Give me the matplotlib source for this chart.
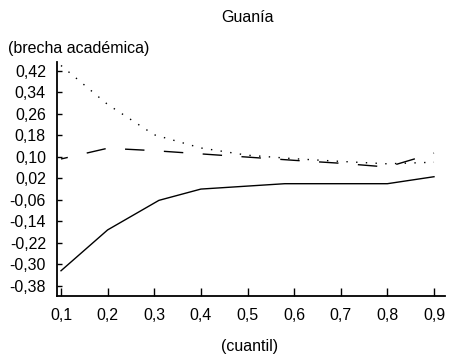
import matplotlib
matplotlib.use("Agg")
import matplotlib.pyplot as plt

# Data
x_quant = [0.1, 0.2, 0.3, 0.4, 0.5, 0.6, 0.7, 0.8, 0.9]
x_solid = [0.1, 0.2, 0.31, 0.4, 0.58, 0.8, 0.9]
y_solid = [-0.324, -0.172, -0.062, -0.020, 0.0, 0.0, 0.026]
y_dashed = [0.092, 0.132, 0.123, 0.111, 0.099, 0.087, 0.076, 0.062, 0.114]
y_dotted = [0.440, 0.295, 0.182, 0.133, 0.106, 0.093, 0.083, 0.074, 0.080]

yticks = [0.42, 0.34, 0.26, 0.18, 0.10, 0.02, -0.06, -0.14, -0.22, -0.30, -0.38]
xticks = [0.1, 0.2, 0.3, 0.4, 0.5, 0.6, 0.7, 0.8, 0.9]

title = "Guanía"
ylabel = "(brecha académica)"
xlabel = "(cuantil)"

plt.rcParams['font.family'] = ['Liberation Sans', 'DejaVu Sans']
FS = 11.5

fig = plt.figure(figsize=(4.55, 3.57), dpi=100)
ax = fig.add_axes([57/455, 1-296/357, (445-57)/455, (296-62)/357])

ax.plot(x_solid, y_solid, color='black', lw=1.0, solid_joinstyle='miter')
ax.plot(x_quant, y_dashed, color='black', lw=1.0, linestyle=(9, (14, 14)))
ax.plot(x_quant, y_dotted, color='black', lw=1.0, linestyle=(0, (1, 6)))

ax.set_xlim(0.0914, 0.9236)
ax.set_ylim(-0.418, 0.453)

ax.set_xticks(xticks)
ax.set_xticklabels([f"{v:.1f}".replace('.', ',') for v in xticks], fontsize=FS)
ax.set_yticks(yticks)
ax.set_yticklabels([f"{v:.2f}".replace('.', ',') for v in yticks], fontsize=FS)

ax.tick_params(axis='x', direction='in', length=6, width=1.0, pad=9)
ax.tick_params(axis='y', direction='in', length=3.5, width=1.0, pad=8)

for s in ['top', 'right']:
    ax.spines[s].set_visible(False)
for s in ['left', 'bottom']:
    ax.spines[s].set_linewidth(1.3)

fig.text(248/455, 1-17/357, title, ha='center', va='center', fontsize=FS)
fig.text(8/455, 1-48/357, ylabel, ha='left', va='center', fontsize=FS)
fig.text(250/455, 1-347/357, xlabel, ha='center', va='center', fontsize=FS)

fig.savefig("out.png", dpi=100)
